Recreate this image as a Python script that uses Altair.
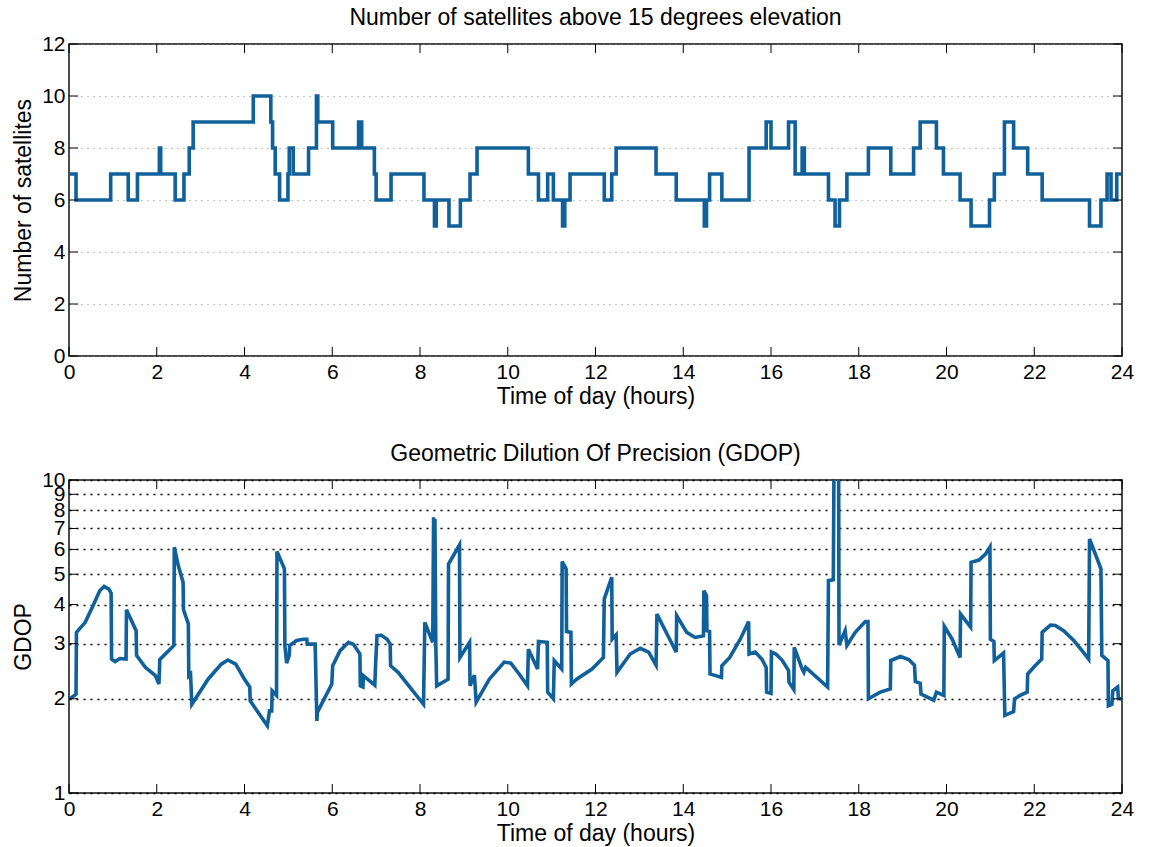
import altair as alt
import pandas as pd

# ---------------- data ----------------
sat_hours = [0.0, 0.16, 0.95, 1.35, 1.56, 2.06, 2.09, 2.42, 2.62, 2.74, 2.83, 4.2, 4.6, 4.64, 4.7,
             4.8, 4.99, 5.02, 5.11, 5.46, 5.64, 5.67, 6.01, 6.6, 6.67, 6.96, 7.0, 7.34, 8.09, 8.33,
             8.37, 8.66, 8.92, 9.14, 9.3, 10.47, 10.7, 10.91, 11.04, 11.25, 11.3, 11.42, 12.2, 12.37,
             12.47, 13.38, 13.84, 14.48, 14.53, 14.6, 14.88, 15.5, 15.89, 16.0, 16.4, 16.55, 16.71,
             16.76, 17.31, 17.46, 17.56, 17.73, 18.22, 18.73, 19.25, 19.4, 19.77, 19.93, 20.31, 20.56,
             20.98, 21.09, 21.32, 21.53, 21.85, 22.18, 23.26, 23.52, 23.66, 23.75, 23.88, 24.0]
sat_counts = [7, 6, 7, 6, 7, 8, 7, 6, 7, 8, 9, 10, 9, 8, 7,
              6, 7, 8, 7, 8, 10, 9, 8, 9, 8, 7, 6, 7, 6, 5,
              6, 5, 6, 7, 8, 7, 6, 7, 6, 5, 6, 7, 6, 7,
              8, 7, 6, 5, 6, 7, 6, 8, 9, 8, 9, 7, 8,
              7, 6, 5, 6, 7, 8, 7, 8, 9, 8, 7, 6, 5,
              6, 7, 9, 8, 7, 6, 5, 6, 7, 6, 7, 7]

gdop_hours = [0.02, 0.16, 0.17, 0.37, 0.55, 0.70, 0.80, 0.91, 0.96, 0.97, 1.05, 1.16, 1.30, 1.31,
              1.53, 1.54, 1.74, 1.97, 2.05, 2.07, 2.39, 2.40, 2.49, 2.60, 2.61, 2.72, 2.73, 2.77,
              2.80, 3.17, 3.47, 3.62, 3.80, 4.00, 4.12, 4.13, 4.52, 4.57, 4.62, 4.63, 4.73, 4.74,
              4.91, 4.92, 4.96, 5.02, 5.03, 5.19, 5.34, 5.42, 5.43, 5.61, 5.65, 5.66, 5.99, 6.01,
              6.18, 6.37, 6.48, 6.63, 6.64, 6.70, 6.71, 6.97, 6.99, 7.02, 7.12, 7.25, 7.32, 7.33,
              7.50, 7.80, 8.08, 8.11, 8.29, 8.31, 8.33, 8.34, 8.36, 8.38, 8.64, 8.65, 8.90, 8.91,
              9.13, 9.14, 9.24, 9.28, 9.58, 9.92, 10.07, 10.26, 10.45, 10.47, 10.68, 10.70, 10.90,
              10.91, 11.04, 11.06, 11.23, 11.24, 11.33, 11.34, 11.44, 11.45, 11.57, 11.92, 12.18,
              12.20, 12.37, 12.38, 12.47, 12.49, 12.79, 13.02, 13.21, 13.38, 13.40, 13.63, 13.84,
              13.85, 14.08, 14.27, 14.46, 14.47, 14.53, 14.54, 14.60, 14.61, 14.87, 14.88, 15.06,
              15.30, 15.49, 15.50, 15.64, 15.79, 15.89, 15.90, 16.00, 16.01, 16.11, 16.26, 16.40,
              16.41, 16.52, 16.53, 16.71, 16.75, 16.79, 17.29, 17.31, 17.42, 17.44, 17.54, 17.55,
              17.69, 17.73, 17.92, 18.15, 18.21, 18.22, 18.49, 18.72, 18.73, 18.95, 19.14, 19.27,
              19.29, 19.40, 19.42, 19.71, 19.77, 19.94, 19.95, 20.13, 20.31, 20.32, 20.55, 20.56,
              20.74, 20.89, 20.99, 21.00, 21.08, 21.09, 21.30, 21.33, 21.53, 21.55, 21.68, 21.84,
              21.85, 22.02, 22.17, 22.18, 22.37, 22.48, 22.67, 22.90, 23.09, 23.24, 23.26, 23.52,
              23.54, 23.68, 23.69, 23.77, 23.79, 23.90, 23.92, 24.0]
gdop_values = [2.0, 2.07, 3.26, 3.51, 3.97, 4.43, 4.57, 4.48, 4.35, 2.68, 2.63, 2.69, 2.68, 3.85,
               3.30, 2.75, 2.52, 2.37, 2.23, 2.67, 2.96, 6.10, 5.33, 4.71, 3.85, 3.47, 2.37, 2.40,
               1.92, 2.31, 2.58, 2.66, 2.58, 2.31, 2.18, 1.97, 1.64, 1.83, 1.83, 2.12, 2.05, 5.91,
               5.20, 2.96, 2.60, 2.75, 2.96, 3.07, 3.10, 3.10, 2.99, 2.99, 1.70, 1.81, 2.23, 2.55,
               2.85, 3.03, 2.99, 2.78, 2.20, 2.18, 2.37, 2.21, 2.62, 3.18, 3.19, 3.10, 2.99, 2.55,
               2.43, 2.15, 1.92, 3.51, 3.03, 7.6, 3.1, 7.5, 3.0, 2.20, 2.31, 5.39, 6.20, 2.71,
               3.03, 2.20, 2.38, 1.95, 2.31, 2.62, 2.60, 2.40, 2.20, 2.88, 2.49, 3.05, 3.03,
               2.10, 2.0, 2.65, 2.49, 5.49, 5.20, 3.28, 3.26, 2.23, 2.31, 2.49, 2.71,
               4.17, 4.89, 3.10, 3.2, 2.43, 2.78, 2.90, 2.82, 2.56, 3.73, 3.22, 2.82,
               3.69, 3.26, 3.14, 3.18, 4.43, 4.27, 3.30, 3.28, 2.40, 2.34, 2.55, 2.71,
               3.10, 3.53, 2.78, 2.82, 2.68, 2.52, 2.10, 2.08, 2.82, 2.78, 2.65, 2.46,
               2.26, 2.14, 2.92, 2.49, 2.43, 2.52, 2.18, 4.77, 4.80, 14.0, 14.0, 2.97,
               3.30, 2.96, 3.26, 3.53, 3.53, 2.0, 2.10, 2.15, 2.65, 2.73, 2.67, 2.56,
               2.27, 2.24, 2.07, 1.98, 2.10, 2.05, 3.41, 3.10, 2.71, 3.73, 3.39, 5.46,
               5.55, 5.80, 6.10, 3.10, 3.05, 2.65, 2.80, 1.77, 1.82, 2.0, 2.05, 2.10,
               2.40, 2.55, 2.68, 3.26, 3.44, 3.43, 3.30, 3.07, 2.85, 2.68, 6.48, 5.20,
               2.75, 2.65, 1.90, 1.92, 2.12, 2.18, 2.0, 2.0]

hour_ticks = list(range(0, 25, 2))
sat_ticks = list(range(0, 13, 2))
gdop_ticks = [1, 2, 3, 4, 5, 6, 7, 8, 9, 10]

# ---------------- styling ----------------
W, H1, H2 = 1053, 312, 313
BLUE = "#0f609b"
FONT = "Liberation Sans"
LFS = 21   # tick labels
TFS = 23   # titles
TICK = 9

sat_df = pd.DataFrame({"hour": sat_hours, "sats": sat_counts})
gdop_df = pd.DataFrame({"hour": gdop_hours, "gdop": gdop_values})
xt = pd.DataFrame({"hour": hour_ticks})
yt1 = pd.DataFrame({"sats": sat_ticks})
yt2 = pd.DataFrame({"gdop": gdop_ticks})

xscale = alt.Scale(domain=[0, 24], nice=False, zero=False)


def xaxis():
    return alt.Axis(values=hour_ticks, title="Time of day (hours)", grid=False, ticks=False,
                    domain=False, labelPadding=5, titlePadding=3, format="d", labelFlush=False)


def tick_layers(yfield, h):
    xb = alt.Chart(xt).mark_rule(color="black", strokeWidth=1).encode(
        x=alt.X("hour:Q"), y=alt.value(h), y2=alt.value(h - TICK))
    xtop = alt.Chart(xt).mark_rule(color="black", strokeWidth=1).encode(
        x=alt.X("hour:Q"), y=alt.value(0), y2=alt.value(TICK))
    ydf = yt1 if yfield == "sats" else yt2
    yl = alt.Chart(ydf).mark_rule(color="black", strokeWidth=1).encode(
        y=alt.Y(f"{yfield}:Q"), x=alt.value(0), x2=alt.value(TICK))
    yr = alt.Chart(ydf).mark_rule(color="black", strokeWidth=1).encode(
        y=alt.Y(f"{yfield}:Q"), x=alt.value(W - TICK), x2=alt.value(W))
    return [xb, xtop, yl, yr]


sat_scale = alt.Scale(domain=[0, 12], nice=False, zero=True)
sat_line = alt.Chart(sat_df).mark_line(
    interpolate="step-after", color=BLUE, strokeWidth=3.6, clip=True
).encode(
    x=alt.X("hour:Q", scale=xscale, axis=xaxis()),
    y=alt.Y("sats:Q", scale=sat_scale,
            axis=alt.Axis(values=sat_ticks, title="Number of satellites", grid=True,
                          gridDash=[1, 5], gridColor="#8a8a8a", gridWidth=1.2, ticks=False,
                          domain=False, labelPadding=4, titlePadding=6, format="d")),
)
top = alt.layer(sat_line, *tick_layers("sats", H1)).properties(
    width=W, height=H1,
    title=alt.TitleParams("Number of satellites above 15 degrees elevation", font=FONT,
                          fontSize=TFS, fontWeight="normal", color="black", offset=3),
)

gdop_scale = alt.Scale(type="log", domain=[1, 10], nice=False)
gdop_line = alt.Chart(gdop_df).mark_line(color=BLUE, strokeWidth=3.6, clip=True).encode(
    x=alt.X("hour:Q", scale=xscale, axis=xaxis()),
    y=alt.Y("gdop:Q", scale=gdop_scale,
            axis=alt.Axis(values=gdop_ticks, title="GDOP", grid=True, gridDash=[2, 5],
                          gridColor="#000000", gridWidth=1.3, ticks=False, domain=False,
                          labelPadding=4, titlePadding=6, format="d", labelOverlap=False)),
)
bottom = alt.layer(gdop_line, *tick_layers("gdop", H2)).properties(
    width=W, height=H2,
    title=alt.TitleParams("Geometric Dilution Of Precision (GDOP)", font=FONT, fontSize=TFS,
                          fontWeight="normal", color="black", offset=3),
)

chart = alt.vconcat(top, bottom, spacing=33).properties(
    padding={"left": 11, "top": 6, "right": 5, "bottom": 5},
    background="white",
).configure_view(
    stroke="#111111", strokeWidth=1.5
).configure_axis(
    labelFont=FONT, labelFontSize=LFS, labelColor="black",
    titleFont=FONT, titleFontSize=TFS, titleFontWeight="normal", titleColor="black",
)

chart.save("out.html", embed_options={"renderer": "svg", "actions": False})
